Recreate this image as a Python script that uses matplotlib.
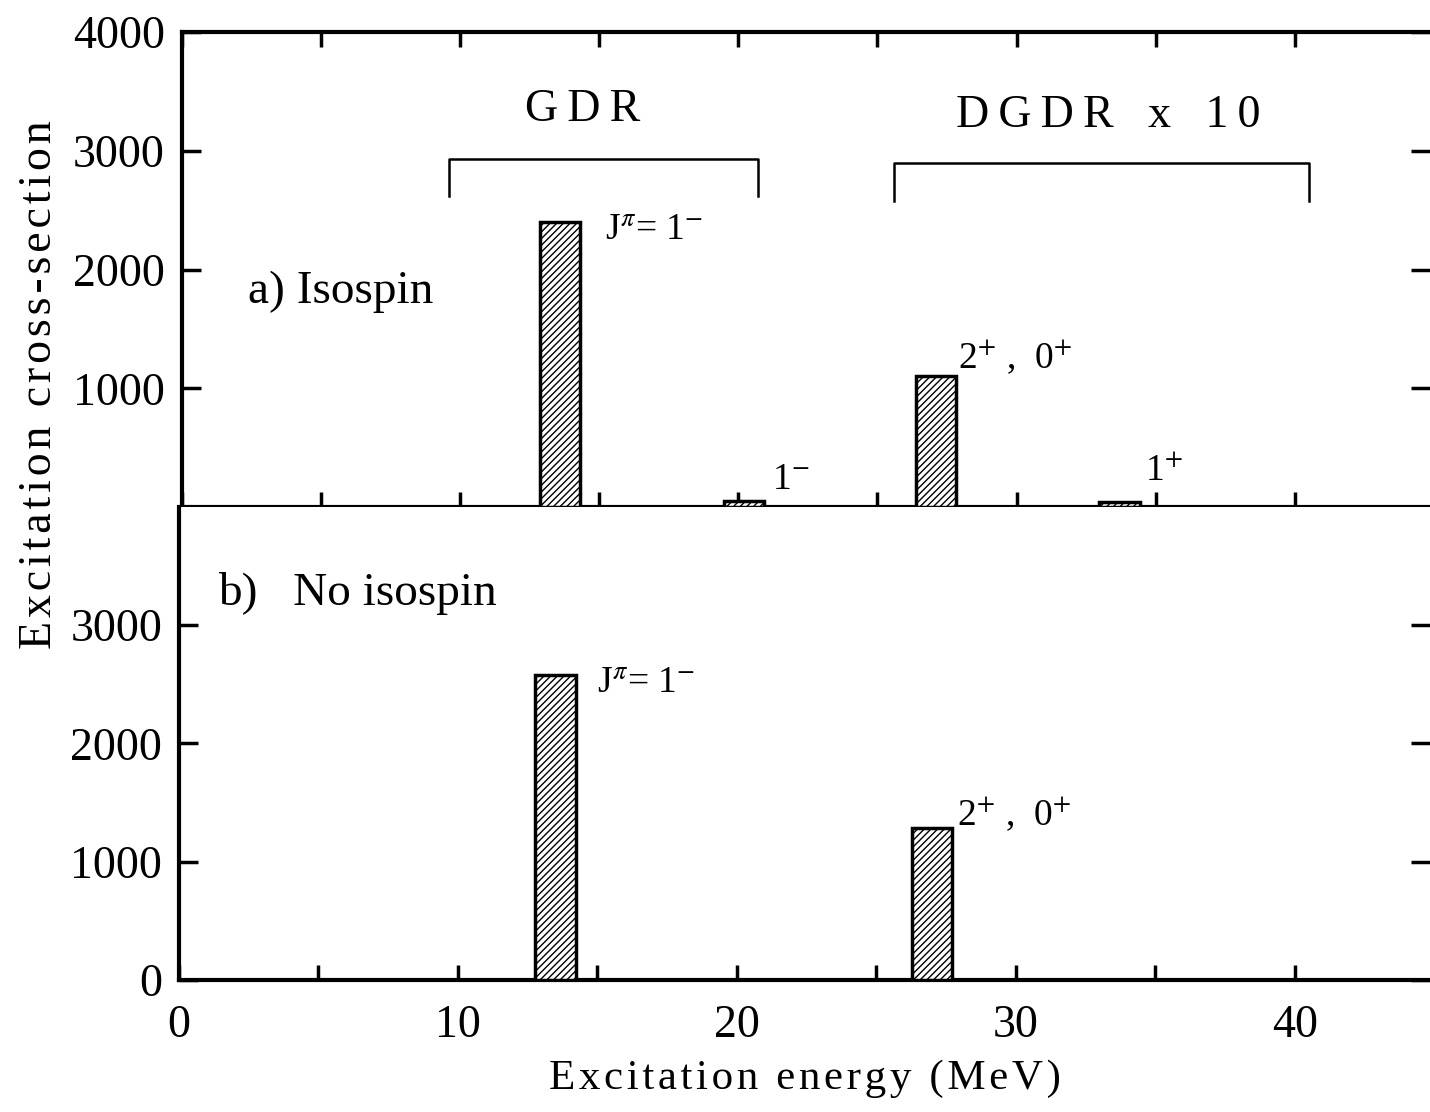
import matplotlib
matplotlib.use("Agg")
import matplotlib.pyplot as plt

# data
energy_a = [13.6, 20.2, 27.1, 33.7]
sigma_a = [2400, 50, 1100, 40]
labels_a = [r"J$^{\pi}$= 1$^{-}$", r"1$^{-}$", r"2$^{+}$ ,  0$^{+}$", r"1$^{+}$"]

energy_b = [13.5, 27.0]
sigma_b = [2580, 1280]
labels_b = [r"J$^{\pi}$= 1$^{-}$", r"2$^{+}$ ,  0$^{+}$"]

bar_width = 1.45
x_ticks = [0, 10, 20, 30, 40]
y_ticks_a = [1000, 2000, 3000, 4000]
y_ticks_b = [0, 1000, 2000, 3000]

plt.rcParams['font.family'] = ['Liberation Serif', 'DejaVu Serif']
plt.rcParams['mathtext.fontset'] = 'stix'
plt.rcParams['hatch.linewidth'] = 1.0

fig = plt.figure(figsize=(14.3, 11.12), dpi=100)
ax1 = fig.add_axes([0.127, 0.544, 0.873, 0.427])
ax2 = fig.add_axes([0.125, 0.119, 0.875, 0.425])

fs = 33


def spaced(s):
    return "\u200a".join(s)


for ax in (ax1, ax2):
    ax.set_xlim(0, 44.85)
    ax.set_ylim(0, 4000)
    for side in ('left', 'top', 'bottom'):
        ax.spines[side].set_linewidth(3)
    ax.spines['right'].set_visible(False)
    ax.set_xticks(x_ticks)
    ax.set_xticks([5, 15, 25, 35], minor=True)
    ax.tick_params(axis='x', which='both', direction='in', length=11, width=2.5,
                   top=True, bottom=True, labelsize=fs, pad=18)
    ax.tick_params(axis='y', direction='in', length=14, width=2.5,
                   left=True, right=True, labelsize=fs, pad=12)
    ax.yaxis.set_minor_locator(plt.NullLocator())

ax1.set_yticks(y_ticks_a)
ax1.tick_params(axis='x', labelbottom=False)
ax2.set_yticks(y_ticks_b)
ax2.spines['top'].set_visible(False)
ax2.tick_params(axis='x', which='both', top=False)

ax1.bar(energy_a, sigma_a, width=bar_width, facecolor='white', edgecolor='black',
        linewidth=2.5, hatch='/////', zorder=3)
ax2.bar(energy_b, sigma_b, width=bar_width, facecolor='white', edgecolor='black',
        linewidth=2.5, hatch='/////', zorder=3)

# level labels
ax1.text(15.2, 2250, labels_a[0], fontsize=27)
ax1.text(21.2, 150, labels_a[1], fontsize=27)
ax1.text(27.9, 1170, labels_a[2], fontsize=27)
ax1.text(34.6, 230, labels_a[3], fontsize=27)
ax2.text(15.0, 2420, labels_b[0], fontsize=27)
ax2.text(27.9, 1310, labels_b[1], fontsize=27)

ax1.text(2.4, 1720, "a) Isospin", fontsize=34)
ax2.text(1.4, 3170, "b)   No isospin", fontsize=34)

# brackets over the GDR / DGDR regions
gdr_span = [9.6, 20.7]
dgdr_span = [25.6, 40.5]
ax1.plot([gdr_span[0], gdr_span[0], gdr_span[1], gdr_span[1]], [2620, 2930, 2930, 2620],
         color='black', lw=1.8)
ax1.plot([dgdr_span[0], dgdr_span[0], dgdr_span[1], dgdr_span[1]], [2580, 2900, 2900, 2580],
         color='black', lw=1.8)
ax1.text(14.4, 3250, "G\u2009D\u2009R", fontsize=fs, ha='center')
ax1.text(33.3, 3200, "D\u2009G\u2009D\u2009R   x   1\u20090", fontsize=fs, ha='center')

fig.text(0.028, 0.654, spaced("Excitation cross-section"), fontsize=fs,
         rotation=90, ha='center', va='center')
fig.text(0.563, 0.03, spaced("Excitation energy (MeV)"), fontsize=31,
         ha='center', va='center')

fig.savefig("out.png", dpi=100)
